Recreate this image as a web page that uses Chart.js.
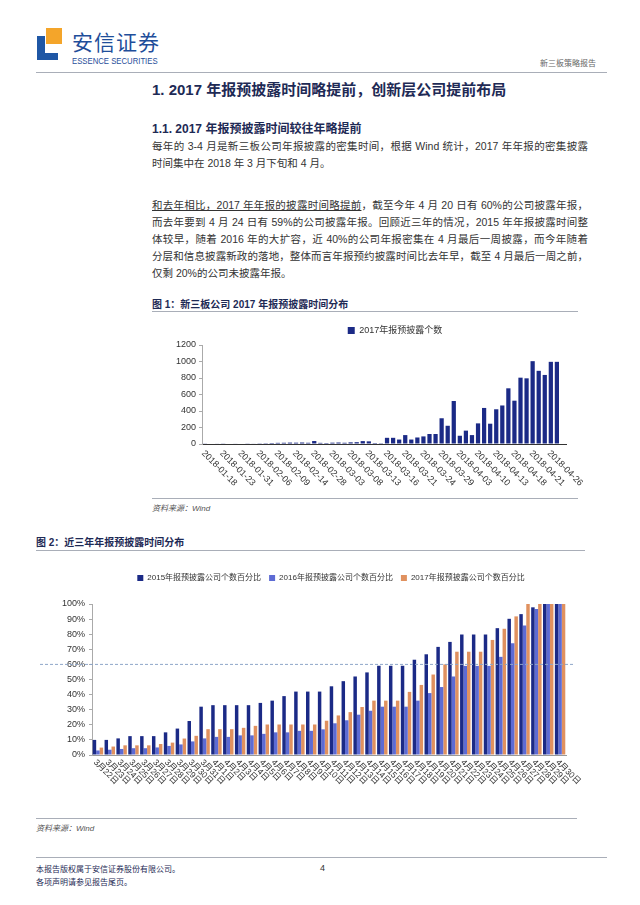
<!DOCTYPE html>
<html>
<head>
<meta charset="utf-8">
<script src="https://cdn.jsdelivr.net/npm/chart.js@4.4.0/dist/chart.umd.min.js"></script>
<style>
    body { margin: 0; background: #fff; font-family: "Liberation Sans", "Noto Sans CJK SC", sans-serif; color: #333; }
    #page { position: relative; width: 640px; height: 905px; overflow: hidden; }
    .abs { position: absolute; white-space: nowrap; }
    .rule { position: absolute; height: 1px; background: #a9aeb8; }
    .line { position: absolute; left: 152px; width: 436px; font-size: 10.5px; line-height: 17px; text-align: justify; text-align-last: justify; white-space: nowrap; }
    .last { text-align-last: left; }
    .cap { position: absolute; font-size: 10px; font-weight: bold; color: #1e2a55; white-space: nowrap; }
    .src { position: absolute; font-size: 8px; font-style: italic; color: #555; white-space: nowrap; }
    canvas { position: absolute; }
</style>
</head>
<body>
<div id="page">
    <!-- logo -->
    <div class="abs" style="left:46px;top:28px;width:16px;height:16px;background:#f4a52a"></div>
    <div class="abs" style="left:37px;top:36px;width:8px;height:24px;background:#1f57a5"></div>
    <div class="abs" style="left:37px;top:53px;width:21px;height:7px;background:#1f57a5"></div>
    <div class="abs" style="left:72px;top:26px;font-size:21px;color:#1f4e9a;letter-spacing:1px">安信证券</div>
    <div class="abs" style="left:72px;top:56px;font-size:9px;color:#1f4e9a;transform:scaleX(0.86);transform-origin:left">ESSENCE SECURITIES</div>
    <div class="abs" style="left:540px;top:57px;font-size:8px;color:#666">新三板策略报告</div>
    <div class="rule" style="left:36px;top:72px;width:571px"></div>

    <div class="abs" style="left:152px;top:78px;font-size:15px;font-weight:bold;color:#1e2a55">1. 2017 年报预披露时间略提前，创新层公司提前布局</div>
    <div class="abs" style="left:152px;top:119px;font-size:12px;font-weight:bold;color:#1e2a55">1.1. 2017 年报预披露时间较往年略提前</div>

    <div class="line" style="top:138px">每年的 3-4 月是新三板公司年报披露的密集时间，根据 Wind 统计，2017 年年报的密集披露</div>
    <div class="line last" style="top:155px">时间集中在 2018 年 3 月下旬和 4 月。</div>

    <div class="line" style="top:197px"><span style="text-decoration:underline">和去年相比，2017 年年报的披露时间略提前</span>，截至今年 4 月 20 日有 60%的公司披露年报，</div>
    <div class="line" style="top:214px">而去年要到 4 月 24 日有 59%的公司披露年报。回顾近三年的情况，2015 年年报披露时间整</div>
    <div class="line" style="top:231px">体较早，随着 2016 年的大扩容，近 40%的公司年报密集在 4 月最后一周披露，而今年随着</div>
    <div class="line" style="top:248px">分层和信息披露新政的落地，整体而言年报预约披露时间比去年早，截至 4 月最后一周之前，</div>
    <div class="line last" style="top:265px">仅剩 20%的公司未披露年报。</div>

    <div class="cap" style="left:152px;top:296px">图 1：新三板公司 2017 年报预披露时间分布</div>
    <div class="rule" style="left:152px;top:311px;width:426px"></div>
    <canvas id="chart1" width="510" height="178" style="left:140px;top:320px"></canvas>
    <div class="rule" style="left:152px;top:498px;width:426px"></div>
    <div class="src" style="left:152px;top:502px">资料来源：Wind</div>

    <div class="cap" style="left:36px;top:534px">图 2：近三年年报预披露时间分布</div>
    <div class="rule" style="left:36px;top:550px;width:549px"></div>
    <canvas id="chart2" width="602" height="250" style="left:30px;top:566px"></canvas>
    <div class="rule" style="left:36px;top:818px;width:541px"></div>
    <div class="src" style="left:36px;top:822px">资料来源：Wind</div>

    <div class="rule" style="left:36px;top:857px;width:571px"></div>
    <div class="abs" style="left:36px;top:863px;font-size:8px;color:#1e2a55">本报告版权属于安信证券股份有限公司。</div>
    <div class="abs" style="left:36px;top:876px;font-size:8px;color:#1e2a55">各项声明请参见报告尾页。</div>
    <div class="abs" style="left:320px;top:863px;font-size:9px;color:#333">4</div>
</div>

<script>
// 图1数据：2017年报预披露个数
const dates1 = [
    '2018-01-18', '2018-01-19', '2018-01-22', '2018-01-23', '2018-01-25', '2018-01-29',
    '2018-01-31', '2018-02-01', '2018-02-05', '2018-02-06', '2018-02-07', '2018-02-08',
    '2018-02-09', '2018-02-12', '2018-02-13', '2018-02-14', '2018-02-22', '2018-02-27',
    '2018-02-28', '2018-03-01', '2018-03-02', '2018-03-03', '2018-03-06', '2018-03-07',
    '2018-03-08', '2018-03-09', '2018-03-12', '2018-03-13', '2018-03-14', '2018-03-15',
    '2018-03-16', '2018-03-19', '2018-03-20', '2018-03-21', '2018-03-22', '2018-03-23',
    '2018-03-24', '2018-03-27', '2018-03-28', '2018-03-29', '2018-03-30', '2018-03-31',
    '2018-04-03', '2018-04-04', '2018-04-09', '2018-04-10', '2018-04-11', '2018-04-12',
    '2018-04-13', '2018-04-16', '2018-04-17', '2018-04-18', '2018-04-19', '2018-04-20',
    '2018-04-21', '2018-04-24', '2018-04-25', '2018-04-26', '2018-04-27', '2018-04-28'
];
const counts2017 = [
    8, 6, 7, 8, 6, 7, 6, 8, 7, 9, 10, 12,
    14, 15, 17, 16, 18, 15, 36, 14, 12, 16, 18, 15,
    20, 22, 35, 32, 12, 10, 75, 75, 54, 108, 54, 79,
    92, 121, 121, 312, 221, 521, 100, 162, 108, 250, 437, 246,
    421, 467, 675, 525, 804, 796, 1004, 887, 837, 996, 996, 6
];
const yTicks1 = [0, 200, 400, 600, 800, 1000, 1200];

// 图2数据：近三年年报预披露公司个数百分比
const dates2 = [
    '3月22日', '3月23日', '3月24日', '3月25日', '3月26日', '3月27日', '3月28日', '3月29日', '3月30日', '3月31日',
    '4月1日', '4月2日', '4月3日', '4月4日', '4月5日', '4月6日', '4月7日', '4月8日', '4月9日', '4月10日',
    '4月11日', '4月12日', '4月13日', '4月14日', '4月15日', '4月16日', '4月17日', '4月18日', '4月19日', '4月20日',
    '4月21日', '4月22日', '4月23日', '4月24日', '4月25日', '4月26日', '4月27日', '4月28日', '4月29日', '4月30日'
];
const pct2015 = [
    10, 10, 11, 12.5, 12.5, 12.5, 15, 17.5, 22.5, 32,
    33, 33, 33, 33, 34.5, 36, 39, 42, 42, 42,
    45.5, 48.9, 52, 54.7, 59.1, 59.1, 59.1, 63.1, 66.7, 71.6,
    74.9, 79.8, 79.8, 79.8, 84, 90.2, 93.3, 97.8, 100, 100
];
const pct2016 = [
    3, 3.5, 4, 4.5, 4.5, 5, 6, 7, 9, 11,
    12, 12, 13, 13, 14, 15, 15, 16, 16, 17,
    21, 23, 26.7, 29.3, 32, 32, 32, 36, 41, 45,
    52, 59, 59, 59, 65, 74, 85.8, 96.7, 100, 100
];
const pct2017 = [
    4.9, 5.6, 6.4, 6.4, 6.4, 7.3, 8.2, 10.9, 12.7, 17.1,
    17.1, 17.1, 18, 19.3, 20.2, 20.2, 20.2, 20.2, 20.2, 22.7,
    26.2, 28.4, 31.8, 36, 36, 36, 41.8, 46.4, 53.3, 60,
    68.4, 68.4, 68.4, 76.2, 83.6, 91.8, 100, 100, 100, 100
];
const refLine = 60;

Chart.defaults.font.family = '"Liberation Sans", "Noto Sans CJK SC", sans-serif';
Chart.defaults.color = '#333';
Chart.defaults.animation = false;

// x轴标签斜着往右下写
const diagLabels = {
    id: 'diagLabels',
    afterDraw(chart, args, opts) {
        const xs = chart.scales.x;
        const ctx = chart.ctx;
        const labels = chart.data.labels;
        ctx.save();
        ctx.font = opts.size + 'px "Liberation Sans", "Noto Sans CJK SC", sans-serif';
        ctx.fillStyle = '#333';
        ctx.textAlign = 'left';
        ctx.textBaseline = 'middle';
        labels.forEach((lab, i) => {
            if (i % opts.every !== 0) return;
            ctx.save();
            ctx.translate(xs.getPixelForValue(i) + opts.dx, xs.top + opts.dy);
            ctx.rotate(Math.PI / 4);
            ctx.fillText(lab, 0, 0);
            ctx.restore();
        });
        ctx.restore();
    }
};

// 图例：下面留点空，并整体挪一下
const legendShift = {
    id: 'legendShift',
    beforeInit(chart, args, opts) {
        const fit = chart.legend.fit;
        chart.legend.fit = function () {
            fit.bind(this)();
            this.height += opts.gap;
        };
    },
    afterLayout(chart, args, opts) {
        chart.legend.left += opts.dx;
        chart.legend.right += opts.dx;
    }
};

// 60% 虚线
const dashLine = {
    id: 'dashLine',
    afterDatasetsDraw(chart, args, opts) {
        const y = chart.scales.y.getPixelForValue(opts.value);
        const ctx = chart.ctx;
        ctx.save();
        ctx.strokeStyle = '#8ea6c9';
        ctx.lineWidth = 1;
        ctx.setLineDash([3, 2]);
        ctx.beginPath();
        ctx.moveTo(opts.x0, y);
        ctx.lineTo(opts.x1, y);
        ctx.stroke();
        ctx.restore();
    }
};

function createChart1() {
    const ctx = document.getElementById('chart1').getContext('2d');
    new Chart(ctx, {
        type: 'bar',
        data: {
            labels: dates1,
            datasets: [{
                label: '2017年报预披露个数',
                data: counts2017,
                backgroundColor: '#1b2a86',
                barPercentage: 0.7,
                categoryPercentage: 1
            }]
        },
        options: {
            responsive: false,
            layout: { padding: { right: 84 } },
            plugins: {
                legend: {
                    labels: { boxWidth: 7, boxHeight: 7, font: { size: 9 }, padding: 6 }
                },
                legendShift: { gap: 0, dx: 42 },
                tooltip: { enabled: false },
                diagLabels: { every: 3, size: 9, dx: -2, dy: 8 }
            },
            scales: {
                x: {
                    grid: { display: false },
                    border: { color: '#333' },
                    ticks: { display: false },
                    afterFit: s => { s.height = 54; }
                },
                y: {
                    min: 0,
                    max: 1200,
                    afterBuildTicks: s => { s.ticks = yTicks1.map(v => ({ value: v })); },
                    grid: { drawOnChartArea: false, tickLength: 3, color: '#aaa' },
                    border: { color: '#aaa' },
                    ticks: { font: { size: 9 }, padding: 3, callback: v => String(v) },
                    afterFit: s => { s.width = 62; }
                }
            }
        },
        plugins: [diagLabels, legendShift]
    });
}

function createChart2() {
    const ctx = document.getElementById('chart2').getContext('2d');
    new Chart(ctx, {
        type: 'bar',
        data: {
            labels: dates2,
            datasets: [
                { label: '2015年报预披露公司个数百分比', data: pct2015, backgroundColor: '#1b2a86' },
                { label: '2016年报预披露公司个数百分比', data: pct2016, backgroundColor: '#5d6bd4' },
                { label: '2017年报预披露公司个数百分比', data: pct2017, backgroundColor: '#e0915f' }
            ]
        },
        options: {
            responsive: false,
            layout: { padding: { right: 66 } },
            datasets: { bar: { barPercentage: 1, categoryPercentage: 0.88 } },
            plugins: {
                legend: {
                    labels: { boxWidth: 6, boxHeight: 6, font: { size: 8 }, padding: 8 }
                },
                legendShift: { gap: 12, dx: 33 },
                tooltip: { enabled: false },
                diagLabels: { every: 1, size: 8.5, dx: -3, dy: 6 },
                dashLine: { value: refLine, x0: 10, x1: 545 }
            },
            scales: {
                x: {
                    grid: { display: false },
                    border: { color: '#999' },
                    ticks: { display: false },
                    afterFit: s => { s.height = 61; }
                },
                y: {
                    min: 0,
                    max: 100,
                    ticks: { stepSize: 10, font: { size: 9 }, padding: 4, callback: v => v + '%' },
                    grid: { drawOnChartArea: false, tickLength: 3, color: '#aaa' },
                    border: { color: '#aaa' },
                    afterFit: s => { s.width = 62; }
                }
            }
        },
        plugins: [diagLabels, legendShift, dashLine]
    });
}

createChart1();
createChart2();
</script>
</body>
</html>
